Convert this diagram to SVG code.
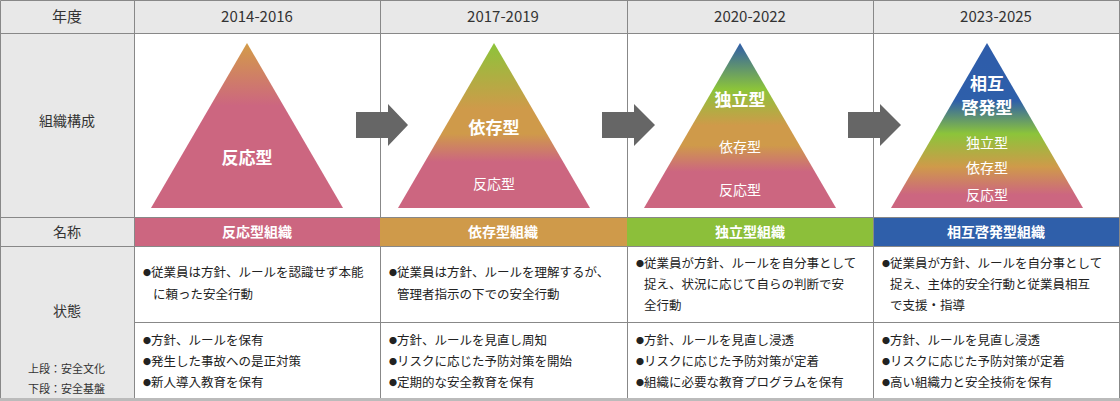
<svg xmlns="http://www.w3.org/2000/svg" width="1120" height="401" viewBox="0 0 1120 401">
<defs>
<linearGradient id="g1" x1="0" y1="0" x2="0" y2="1"><stop offset="0" stop-color="#D39C48"/><stop offset="0.38" stop-color="#CC6680"/><stop offset="1" stop-color="#CC6680"/></linearGradient>
<linearGradient id="g2" x1="0" y1="0" x2="0" y2="1"><stop offset="0" stop-color="#8CC43A"/><stop offset="0.4" stop-color="#CF9A4A"/><stop offset="0.55" stop-color="#CF9A4A"/><stop offset="0.72" stop-color="#CC6680"/><stop offset="1" stop-color="#CC6680"/></linearGradient>
<linearGradient id="g3" x1="0" y1="0" x2="0" y2="1"><stop offset="0" stop-color="#2E5CAA"/><stop offset="0.28" stop-color="#8CC43A"/><stop offset="0.5" stop-color="#CF9A4A"/><stop offset="0.62" stop-color="#CF9A4A"/><stop offset="0.78" stop-color="#CC6680"/><stop offset="1" stop-color="#CC6680"/></linearGradient>
<linearGradient id="g4" x1="0" y1="0" x2="0" y2="1"><stop offset="0" stop-color="#2E5CAA"/><stop offset="0.35" stop-color="#2E5FAA"/><stop offset="0.55" stop-color="#8CC43A"/><stop offset="0.75" stop-color="#CF9A4A"/><stop offset="0.92" stop-color="#CC6680"/><stop offset="1" stop-color="#CC6680"/></linearGradient>
<style>
text{font-family:"Noto Sans CJK JP","Noto Sans",sans-serif;}
.hd{font-size:15px;fill:#333;text-anchor:middle;}
.lb{font-size:14px;fill:#333;text-anchor:middle;}
.tb{font-size:17px;fill:#fff;font-weight:bold;text-anchor:middle;}
.ts{font-size:14px;fill:#fff;text-anchor:middle;}
.nm{font-size:14px;fill:#fff;font-weight:bold;text-anchor:middle;}
.tx{font-size:12.5px;fill:#222;}
.bu{font-size:8px;}
.sm{font-size:11px;fill:#333;}
.ln{stroke:#888;stroke-width:1;fill:none;}
.ar{fill:#666;}
</style>
</defs>
<g id="grid">
<rect x="0" y="0" width="1120" height="33" fill="#E8E8E8"/>
<rect x="0" y="33" width="134" height="366" fill="#E8E8E8"/>
<rect x="134" y="33" width="986" height="184" fill="#fff"/>
<rect x="134" y="246" width="986" height="153" fill="#fff"/>
<rect x="134" y="217" width="246" height="29" fill="#CC6680"/>
<rect x="380" y="217" width="247" height="29" fill="#CF9A4A"/>
<rect x="627" y="217" width="246" height="29" fill="#8CBF3A"/>
<rect x="873" y="217" width="246" height="29" fill="#2F5FAA"/>
<path class="ln" d="M0.5 0.5H1119.5V399.5H0.5Z M0 33.5H1120 M0 217.5H1120 M0 246.5H1120 M134 322.5H1120 M134.5 0V400 M380.5 0V217 M380.5 246V400 M627.5 0V217 M627.5 246V400 M873.5 0V400"/>
<rect x="0" y="398" width="1120" height="3" fill="#bbb"/>
</g>
<g id="header">
<text class="hd" x="67" y="22">年度</text>
<text class="hd" x="257" y="22">2014-2016</text>
<text class="hd" x="503" y="22">2017-2019</text>
<text class="hd" x="750" y="22">2020-2022</text>
<text class="hd" x="996" y="22">2023-2025</text>
<text class="lb" x="67" y="126">組織構成</text>
<text class="lb" x="67" y="237">名称</text>
<text class="lb" x="67" y="316">状態</text>
<text class="sm" x="28" y="373">上段：安全文化</text>
<text class="sm" x="28" y="393">下段：安全基盤</text>
</g>
<g id="tri1"><polygon points="247,43 343,208 151,208" fill="url(#g1)"/><text class="tb" x="247" y="164">反応型</text></g>
<g id="tri2"><polygon points="494,43 590,208 398,208" fill="url(#g2)"/><text class="tb" x="494" y="134">依存型</text><text class="ts" x="494" y="189">反応型</text></g>
<g id="tri3"><polygon points="740,43 836,208 644,208" fill="url(#g3)"/><text class="tb" x="740" y="106">独立型</text><text class="ts" x="740" y="152">依存型</text><text class="ts" x="740" y="195">反応型</text></g>
<g id="tri4"><polygon points="987,43 1083,208 891,208" fill="url(#g4)"/><text class="tb" x="987" y="90">相互</text><text class="tb" x="987" y="114">啓発型</text><text class="ts" x="987" y="148">独立型</text><text class="ts" x="987" y="173">依存型</text><text class="ts" x="987" y="200">反応型</text></g>
<g id="connectors">
<polygon class="ar" points="356,112 388,112 388,104 408,125 388,146 388,138 356,138"/>
<polygon class="ar" points="602,112 634,112 634,104 655,125 634,146 634,138 602,138"/>
<polygon class="ar" points="848,112 880,112 880,104 901,125 880,146 880,138 848,138"/>
</g>
<g id="names">
<text class="nm" x="257" y="237">反応型組織</text>
<text class="nm" x="503" y="237">依存型組織</text>
<text class="nm" x="750" y="237">独立型組織</text>
<text class="nm" x="996" y="237">相互啓発型組織</text>
</g>
<g id="state">
<text class="tx" x="143" y="277"><tspan class="bu" dy="-1">●</tspan><tspan dy="1">従業員は方針、ルールを認識せず本能</tspan></text>
<text class="tx" x="153" y="299">に頼った安全行動</text>
<text class="tx" x="389" y="277"><tspan class="bu" dy="-1">●</tspan><tspan dy="1">従業員は方針、ルールを理解するが、</tspan></text>
<text class="tx" x="397" y="299">管理者指示の下での安全行動</text>
<text class="tx" x="636" y="268"><tspan class="bu" dy="-1">●</tspan><tspan dy="1">従業員が方針、ルールを自分事として</tspan></text>
<text class="tx" x="644" y="289">捉え、状況に応じて自らの判断で安</text>
<text class="tx" x="644" y="310">全行動</text>
<text class="tx" x="882" y="268"><tspan class="bu" dy="-1">●</tspan><tspan dy="1">従業員が方針、ルールを自分事として</tspan></text>
<text class="tx" x="890" y="289">捉え、主体的安全行動と従業員相互</text>
<text class="tx" x="890" y="310">で支援・指導</text>
<text class="tx" x="143" y="345"><tspan class="bu" dy="-1">●</tspan><tspan dy="1">方針、ルールを保有</tspan></text>
<text class="tx" x="143" y="366"><tspan class="bu" dy="-1">●</tspan><tspan dy="1">発生した事故への是正対策</tspan></text>
<text class="tx" x="143" y="387"><tspan class="bu" dy="-1">●</tspan><tspan dy="1">新人導入教育を保有</tspan></text>
<text class="tx" x="389" y="345"><tspan class="bu" dy="-1">●</tspan><tspan dy="1">方針、ルールを見直し周知</tspan></text>
<text class="tx" x="389" y="366"><tspan class="bu" dy="-1">●</tspan><tspan dy="1">リスクに応じた予防対策を開始</tspan></text>
<text class="tx" x="389" y="387"><tspan class="bu" dy="-1">●</tspan><tspan dy="1">定期的な安全教育を保有</tspan></text>
<text class="tx" x="636" y="345"><tspan class="bu" dy="-1">●</tspan><tspan dy="1">方針、ルールを見直し浸透</tspan></text>
<text class="tx" x="636" y="366"><tspan class="bu" dy="-1">●</tspan><tspan dy="1">リスクに応じた予防対策が定着</tspan></text>
<text class="tx" x="636" y="387"><tspan class="bu" dy="-1">●</tspan><tspan dy="1">組織に必要な教育プログラムを保有</tspan></text>
<text class="tx" x="882" y="345"><tspan class="bu" dy="-1">●</tspan><tspan dy="1">方針、ルールを見直し浸透</tspan></text>
<text class="tx" x="882" y="366"><tspan class="bu" dy="-1">●</tspan><tspan dy="1">リスクに応じた予防対策が定着</tspan></text>
<text class="tx" x="882" y="387"><tspan class="bu" dy="-1">●</tspan><tspan dy="1">高い組織力と安全技術を保有</tspan></text>
</g>
</svg>
